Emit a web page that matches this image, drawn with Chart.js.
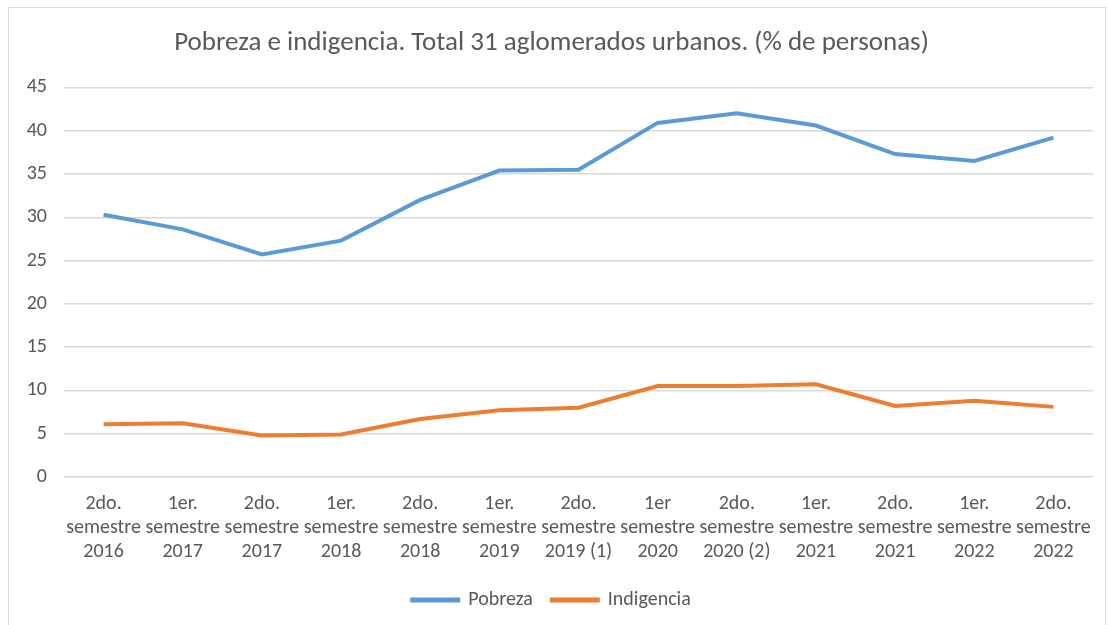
<!DOCTYPE html>
<html>
<head>
<meta charset="utf-8">
<script src="https://cdn.jsdelivr.net/npm/chart.js@4"></script>
<style>
  body { margin: 0; background: #fff; }
  #frame { position: absolute; left: 8px; top: 7px; width: 1098px; height: 625px; border: 1px solid #d9d9d9; box-sizing: border-box; }
  #wrap { position: absolute; left: 0; top: 0; width: 1108px; height: 625px; }
</style>
</head>
<body>
<div id="frame"></div>
<div id="wrap"><canvas id="chart"></canvas></div>
<script>
// categories (semesters)
var periods = [
  ["2do.", "semestre", "2016"],
  ["1er.", "semestre", "2017"],
  ["2do.", "semestre", "2017"],
  ["1er.", "semestre", "2018"],
  ["2do.", "semestre", "2018"],
  ["1er.", "semestre", "2019"],
  ["2do.", "semestre", "2019 (1)"],
  ["1er", "semestre", "2020"],
  ["2do.", "semestre", "2020 (2)"],
  ["1er.", "semestre", "2021"],
  ["2do.", "semestre", "2021"],
  ["1er.", "semestre", "2022"],
  ["2do.", "semestre", "2022"]
];
var pobreza = [30.3, 28.6, 25.7, 27.3, 32.0, 35.4, 35.5, 40.9, 42.0, 40.6, 37.3, 36.5, 39.2];
var indigencia = [6.1, 6.2, 4.8, 4.9, 6.7, 7.7, 8.0, 10.5, 10.5, 10.7, 8.2, 8.8, 8.1];

var font = "Carlito, Calibri, 'Liberation Sans Narrow', 'Open Sans', sans-serif";
var textColor = "#595959";

document.addEventListener("DOMContentLoaded", function () {
  var ctx = document.getElementById("chart").getContext("2d");
  var myChart = new Chart(ctx, {
    type: "line",
    data: {
      labels: periods,
      datasets: [{
        label: "Pobreza",
        data: pobreza,
        borderColor: "#5B9BD5",
        backgroundColor: "#5B9BD5",
        borderWidth: 4,
        pointRadius: 0,
        tension: 0
      }, {
        label: "Indigencia",
        data: indigencia,
        borderColor: "#ED7D31",
        backgroundColor: "#ED7D31",
        borderWidth: 4,
        pointRadius: 0,
        tension: 0
      }]
    },
    options: {
      responsive: true,
      maintainAspectRatio: false,
      animation: false,
      layout: { padding: { left: 10, right: 15, top: 27, bottom: 5 } },
      plugins: {
        title: {
          display: true,
          text: "Pobreza e indigencia. Total 31 aglomerados urbanos. (% de personas)",
          color: textColor,
          font: { family: font, size: 27, weight: "normal", lineHeight: 1.2 },
          padding: { top: 0, bottom: 28 }
        },
        legend: {
          position: "bottom",
          labels: {
            color: textColor,
            font: { family: font, size: 20 },
            boxWidth: 46,
            boxHeight: 1,
            padding: 19
          }
        },
        tooltip: { enabled: false }
      },
      scales: {
        x: {
          offset: true,
          grid: { display: false },
          border: { display: false },
          ticks: {
            color: textColor,
            font: { family: font, size: 20, lineHeight: 1.2 },
            maxRotation: 0,
            autoSkip: false,
            padding: 7
          }
        },
        y: {
          min: 0,
          max: 45,
          afterFit: function (scale) { scale.width = 54; },
          grid: { color: "#d9d9d9", lineWidth: 1.5, drawTicks: false },
          border: { display: false },
          ticks: {
            stepSize: 5,
            color: textColor,
            font: { family: font, size: 20 },
            padding: 17
          }
        }
      }
    }
  });
});
</script>
</body>
</html>
